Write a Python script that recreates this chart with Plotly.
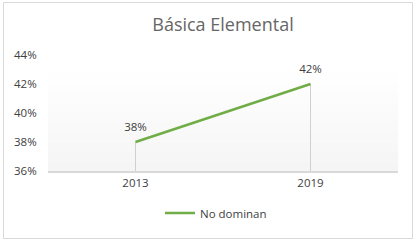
import plotly.graph_objects as go

years = ["2013", "2019"]
no_dominan = [0.38, 0.42]
series_name = "No dominan"
title_text = "Básica Elemental"

W, H = 417, 243
ml, mr, mt, mb = 48, 19, 55, 72
pw, ph = W - ml - mr, H - mt - mb

def px(x):
    return (x - ml) / pw

def py(y):
    return 1 - (y - mt) / ph

fig = go.Figure()

# drop lines
for yr, v in zip(years, no_dominan):
    fig.add_trace(go.Scatter(x=[yr, yr], y=[0.36, v], mode="lines",
                             line=dict(color="#d0d0d0", width=1),
                             showlegend=False, hoverinfo="skip"))

fig.add_trace(go.Scatter(
    x=years, y=no_dominan, mode="lines", name=series_name,
    line=dict(color="#70ad47", width=2.5),
))

# data labels (transparent markers push text upward)
fig.add_trace(go.Scatter(
    x=years, y=no_dominan, mode="markers+text", showlegend=False,
    hoverinfo="skip",
    marker=dict(size=12, color="rgba(0,0,0,0)"),
    text=[f"{v:.0%}" for v in no_dominan], textposition="top center",
    textfont=dict(size=11.5, color="#404040"),
))

shapes = []
# faint gradient in plot area
n = 10
top_y, bot_y = 73, 171
for i in range(n):
    y0 = top_y + (bot_y - top_y) * i / n
    y1 = top_y + (bot_y - top_y) * (i + 1) / n
    g = int(255 - 10 * (i + 1) / n)
    shapes.append(dict(type="rect", xref="paper", yref="paper", layer="below",
                       x0=px(48), x1=px(398), y0=py(y1), y1=py(y0),
                       fillcolor=f"rgb({g},{g},{g})", line=dict(width=0)))
# outer border
shapes.append(dict(type="rect", xref="paper", yref="paper",
                   x0=px(3.5), x1=px(412.5), y0=py(238.5), y1=py(2.5),
                   line=dict(color="#d9d9d9", width=1), fillcolor="rgba(0,0,0,0)"))

fig.update_layout(
    width=W, height=H,
    margin=dict(l=ml, r=mr, t=mt, b=mb),
    paper_bgcolor="white", plot_bgcolor="rgba(0,0,0,0)",
    font=dict(family="Open Sans, Liberation Sans, sans-serif", color="#595959", size=11),
    title=dict(text=title_text, x=0.5, xref="paper", xanchor="center",
               y=1 - 25 / H, yanchor="middle",
               font=dict(size=18, color="#666666")),
    showlegend=True,
    legend=dict(orientation="h", x=0.48, xref="paper", xanchor="center",
                y=py(213), yanchor="middle", font=dict(size=11.5, color="#404040"),
                bgcolor="rgba(0,0,0,0)"),
    shapes=shapes,
    xaxis=dict(type="category", showgrid=False, zeroline=False,
               showline=True, linecolor="#d9d9d9", linewidth=1.5,
               ticks="", tickfont=dict(size=11.5, color="#404040"),
               range=[-0.5, 1.5]),
    yaxis=dict(range=[0.36, 0.44], dtick=0.02, tickformat=".0%",
               showgrid=False, zeroline=False, showline=False,
               ticks="outside", ticklen=8, tickcolor="rgba(0,0,0,0)",
               tickfont=dict(size=11.5, color="#404040")),
)

fig.write_html("out.html")
